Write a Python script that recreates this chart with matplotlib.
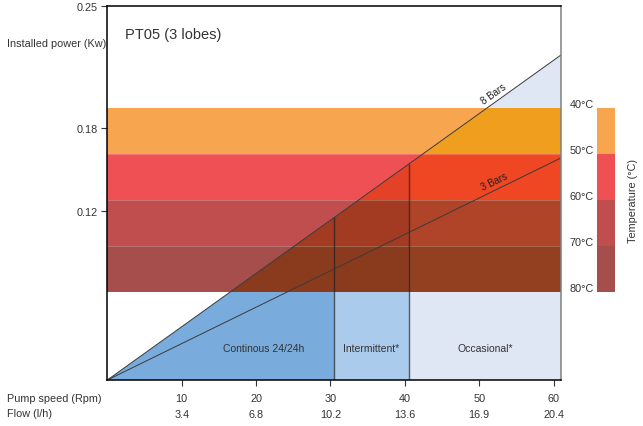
import matplotlib.pyplot as plt
import matplotlib.patches as mpatches
import numpy as np

plt.rcParams['font.family'] = ['Liberation Sans', 'DejaVu Sans']
plt.rcParams['figure.dpi'] = 100

# pump speed (rpm) and matching flow (l/h)
rpm_ticks = [10, 20, 30, 40, 50, 60]
flow_labels = ["3.4", "6.8", "10.2", "13.6", "16.9", "20.4"]
rpm_max = 61

# installed power ticks (chart height units, 0-100)
power_tick_pos = [100, 67.2, 45.2]
power_tick_labels = ["0.25", "0.18", "0.12"]

# temperature bands, top edge of each band from 40°C down to 80°C
temps = [40, 50, 60, 70, 80]
band_edges = [72.6, 60.3, 48.0, 35.7, 23.4]
band_colors = ["#f8a550", "#ef5053", "#c04e4e", "#a64e4c"]
band_in_low = ["#f0a01e", "#e44226", "#a33b22", "#8a3a1d"]
band_in_high = ["#f09e1e", "#ef4623", "#b04428", "#934020"]

# pressure lines: value reached at rpm_max
pressures = ["8 Bars", "3 Bars"]
pressure_end = [86.8, 59.3]

# duty zones
zone_edges = [0, 30.5, 40.5, rpm_max]
zone_colors = ["#79acdc", "#aacbeb", "#dfe6f4"]
zone_labels = ["Continous 24/24h", "Intermittent*", "Occasional*"]
zone_label_x = [21, 35.5, 50.8]

txt = "#333333"

fig = plt.figure(figsize=(6.43, 4.27))
ax = fig.add_axes([0.1669, 0.1077, 0.7056, 0.877])
ax.set_xlim(0, rpm_max)
ax.set_ylim(0, 100)

# full-width temperature bands
for i in range(4):
    ax.axhspan(band_edges[i + 1], band_edges[i], color=band_colors[i], lw=0, zorder=1)

# triangle under the 8 bar line
slope8 = pressure_end[0] / rpm_max
tri = mpatches.Polygon([(0, 0), (rpm_max, pressure_end[0]), (rpm_max, 0)],
                       closed=True, fc="none", ec="none")
ax.add_patch(tri)

for i in range(3):
    c = ax.fill_between([zone_edges[i], zone_edges[i + 1]], 0, 100,
                        color=zone_colors[i], lw=0, zorder=2)
    c.set_clip_path(tri)
    for b in range(4):
        col = band_in_low[b] if i < 2 else band_in_high[b]
        c = ax.fill_between([zone_edges[i], zone_edges[i + 1]],
                            band_edges[b + 1], band_edges[b],
                            color=col, lw=0, zorder=3)
        c.set_clip_path(tri)

for y in band_edges[1:-1]:
    ax.axhline(y, color="white", alpha=0.25, lw=0.6, zorder=3.5)

# zone separators
for x in zone_edges[1:3]:
    ax.vlines(x, 0, slope8 * x, color="#202020", alpha=0.7, lw=1, zorder=4)

# pressure lines + labels (angle taken in screen space)
for name, yend in zip(pressures, pressure_end):
    ax.plot([0, rpm_max], [0, yend], color="#3a3a3a", lw=0.7, zorder=5)
    p0 = ax.transData.transform((0, 0))
    p1 = ax.transData.transform((rpm_max, yend))
    ang = np.degrees(np.arctan2(p1[1] - p0[1], p1[0] - p0[0]))
    xl = 52.3
    ax.annotate(name, (xl, yend / rpm_max * xl), xytext=(0, 4), textcoords="offset pixels",
                rotation=ang, rotation_mode="anchor", ha="center", va="bottom",
                fontsize=7, color="#222222", zorder=6)

for lab, x in zip(zone_labels, zone_label_x):
    ax.text(x, 8.5, lab, ha="center", va="center", fontsize=7.5, color=txt, zorder=6)

ax.text(0.04, 0.925, "PT05 (3 lobes)", transform=ax.transAxes,
        fontsize=10.5, color=txt, va="center", ha="left")

# axes styling
for side in ["left", "top", "bottom"]:
    ax.spines[side].set_color("black")
    ax.spines[side].set_linewidth(1.1)
ax.spines["right"].set_color("#808080")
ax.spines["right"].set_linewidth(1.1)
for s in ax.spines.values():
    s.set_zorder(7)

ax.set_xticks(rpm_ticks, [str(r) for r in rpm_ticks])
ax.set_yticks(power_tick_pos, power_tick_labels)
ax.tick_params(axis="both", colors="#333333", labelcolor=txt, labelsize=7.8,
               length=4, width=0.8)
ax.tick_params(axis="x", pad=5)
ax.tick_params(axis="y", pad=3)

for x, fl in zip(rpm_ticks, flow_labels):
    ax.annotate(fl, (x, 0), xycoords=("data", "axes fraction"),
                xytext=(0, -34), textcoords="offset pixels",
                ha="center", va="center", fontsize=7.8, color=txt)

fig.text(7 / 643, 1 - 399 / 427, "Pump speed (Rpm)", fontsize=7.8, color=txt, va="center")
fig.text(7 / 643, 1 - 414 / 427, "Flow (l/h)", fontsize=7.8, color=txt, va="center")
fig.text(7 / 643, 1 - 44 / 427, "Installed power (Kw)", fontsize=7.8, color=txt, va="center")

# temperature legend bar
cax = fig.add_axes([597 / 643, 0.1077, 18 / 643, 0.877])
cax.set_ylim(0, 100)
cax.set_xlim(0, 1)
for i in range(4):
    cax.axhspan(band_edges[i + 1], band_edges[i], color=band_colors[i], lw=0)
for t, y in zip(temps, band_edges):
    cax.annotate(f"{t}°C", (0, y), xycoords=("axes fraction", "data"),
                 xytext=(-3, 4), textcoords="offset pixels",
                 ha="right", va="center", fontsize=7.8, color=txt)
cax.axis("off")
fig.text(633 / 643, 1 - 201 / 427, "Temperature (°C)", rotation=90,
         fontsize=7.8, color=txt, ha="center", va="center")

fig.savefig("out.png", dpi=100)
